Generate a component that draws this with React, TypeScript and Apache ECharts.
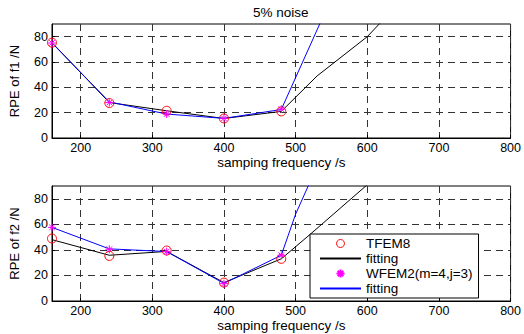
import React, { useEffect, useRef } from "react";
import * as echarts from "echarts";

const xTicks = [200, 300, 400, 500, 600, 700, 800];
const yTicks = [0, 20, 40, 60, 80];

// top panel (f1)
const f1Tfem8: [number, number][] = [[160, 75.3], [240, 27.6], [320, 21.5], [400, 15.4], [480, 21]];
const f1TfemFit: [number, number][] = [[160, 75.3], [240, 28], [320, 21.5], [400, 15.4], [480, 21], [530, 49], [600, 80], [620, 92]];
const f1Wfem2: [number, number][] = [[160, 75], [240, 28], [320, 18.9], [400, 15.5], [480, 22.8]];
const f1WfemFit: [number, number][] = [[160, 75], [240, 28.5], [320, 18.9], [400, 15.5], [480, 22.5], [540, 98]];

// bottom panel (f2)
const f2Tfem8: [number, number][] = [[160, 48.9], [240, 35.3], [320, 39.5], [400, 14.4], [480, 33]];
const f2TfemFit: [number, number][] = [[160, 48], [240, 35.8], [320, 38.8], [400, 14.4], [480, 33], [520, 52], [600, 91]];
const f2Wfem2: [number, number][] = [[160, 57.6], [240, 40.5], [320, 38.7], [400, 13.6], [480, 35.8]];
const f2WfemFit: [number, number][] = [[160, 57.6], [240, 40.8], [320, 38.7], [400, 13.8], [480, 35.8], [500, 68], [520, 93]];

const FONT = "Liberation Sans, Arial, sans-serif";
const STAR = "path://M5,0L5,10M0,5L10,5M1.5,1.5L8.5,8.5M8.5,1.5L1.5,8.5";

export default function App() {
  const ref = useRef<HTMLDivElement>(null);
  useEffect(() => {
    if (!ref.current) return;
    const chart = echarts.init(ref.current, null, { renderer: "svg" });

    const xAxis = (gridIndex: number) => ({
      type: "value",
      gridIndex,
      min: 160,
      max: 800,
      name: "samping frequency /s",
      nameLocation: "middle",
      nameGap: 17,
      nameTextStyle: { color: "#000", fontSize: 13.5, fontFamily: FONT },
      axisLine: { onZero: false, lineStyle: { color: "#000", width: 1 } },
      axisTick: { show: true, inside: true, length: 3, customValues: xTicks, lineStyle: { color: "#000" } },
      axisLabel: { customValues: xTicks, color: "#000", fontSize: 12.5, fontFamily: FONT, margin: 3 },
      splitLine: { show: true, lineStyle: { color: "#333", type: [7, 5], width: 1 } },
    });
    const yAxis = (gridIndex: number, name: string) => ({
      type: "value",
      gridIndex,
      min: 0,
      max: 90,
      name,
      nameLocation: "middle",
      nameGap: 31,
      nameTextStyle: { color: "#000", fontSize: 13, fontFamily: FONT },
      axisLine: { show: true, lineStyle: { color: "#000", width: 1 } },
      axisTick: { show: true, inside: true, length: 3, customValues: yTicks, lineStyle: { color: "#000" } },
      axisLabel: { customValues: yTicks, color: "#000", fontSize: 12.5, fontFamily: FONT, margin: 4 },
      splitLine: { show: true, lineStyle: { color: "#333", type: [7, 5], width: 1 } },
    });

    const markerSeries = (name: string, data: [number, number][], idx: number, kind: "circle" | "star") => ({
      name,
      type: "line",
      xAxisIndex: idx,
      yAxisIndex: idx,
      data,
      symbol: kind === "circle" ? "circle" : STAR,
      symbolSize: kind === "circle" ? 9 : 8,
      showSymbol: true,
      lineStyle: { width: 0, opacity: 0 },
      itemStyle:
        kind === "circle"
          ? { color: "rgba(0,0,0,0)", borderColor: "#ff0000", borderWidth: 1 }
          : { color: "#ff00ff", borderColor: "#ff00ff", borderWidth: 1 },
      z: 5,
    });
    const fitSeries = (name: string, data: [number, number][], idx: number, color: string) => ({
      name,
      type: "line",
      xAxisIndex: idx,
      yAxisIndex: idx,
      data,
      symbol: "circle",
      showSymbol: false,
      clip: true,
      lineStyle: { color, width: 1 },
      itemStyle: { color: "rgba(0,0,0,0)", borderWidth: 0 },
      z: 3,
    });

    chart.setOption({
      animation: false,
      backgroundColor: "#fff",
      title: {
        text: "5% noise",
        left: 253,
        top: 5,
        padding: 0,
        textStyle: { color: "#000", fontSize: 13.5, fontWeight: "normal", fontFamily: FONT },
      },
      grid: [
        { left: 51, top: 24, width: 461, height: 114, show: true, borderColor: "#000", borderWidth: 1, backgroundColor: "#fff" },
        { left: 51, top: 186, width: 461, height: 115, show: true, borderColor: "#000", borderWidth: 1, backgroundColor: "#fff" },
      ],
      xAxis: [xAxis(0), xAxis(1)],
      yAxis: [yAxis(0, "RPE of f1 /N"), yAxis(1, "RPE of f2 /N")],
      legend: {
        orient: "vertical",
        left: 310,
        top: 234,
        padding: [2, 6, 2, 9],
        itemGap: 0,
        itemWidth: 41,
        itemHeight: 10,
        backgroundColor: "#fff",
        borderColor: "#000",
        borderWidth: 1,
        borderRadius: 0,
        data: [
          { name: "TFEM8", itemStyle: { color: "rgba(0,0,0,0)", borderColor: "#ff0000", borderWidth: 1 } },
          "fitting",
          "WFEM2(m=4,j=3)",
          "fitting ",
        ],
        formatter: (n: string) => n.trim(),
        textStyle: { color: "#000", fontSize: 13.5, fontFamily: FONT, lineHeight: 15 },
      },
      series: [
        fitSeries("fitting", f1TfemFit, 0, "#000000"),
        fitSeries("fitting ", f1WfemFit, 0, "#0000ff"),
        markerSeries("TFEM8", f1Tfem8, 0, "circle"),
        markerSeries("WFEM2(m=4,j=3)", f1Wfem2, 0, "star"),
        fitSeries("fitting", f2TfemFit, 1, "#000000"),
        fitSeries("fitting ", f2WfemFit, 1, "#0000ff"),
        markerSeries("TFEM8", f2Tfem8, 1, "circle"),
        markerSeries("WFEM2(m=4,j=3)", f2Wfem2, 1, "star"),
      ],
    });
    return () => chart.dispose();
  }, []);
  return <div ref={ref} style={{ width: 524, height: 334, position: "fixed", left: 0, top: 0 }} />;
}
